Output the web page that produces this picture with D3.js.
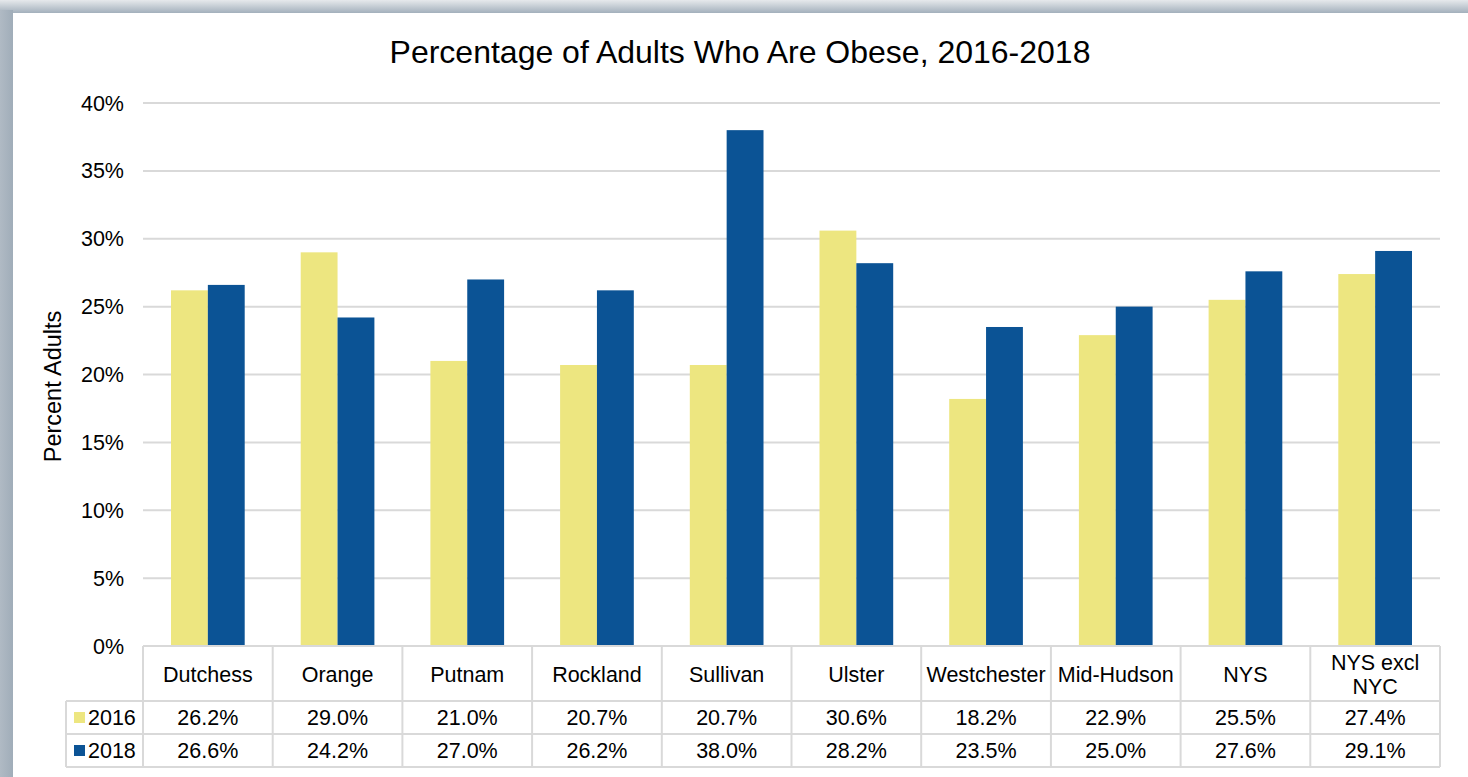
<!doctype html>
<html lang="en">
<head>
<meta charset="utf-8">
<title>Percentage of Adults Who Are Obese</title>
<script src="https://d3js.org/d3.v7.min.js"></script>
<style>
    body { margin: 0; background: #fff; font-family: "Liberation Sans", Arial, sans-serif; }
    text { fill: #000; }
</style>
</head>
<body>
<div id="chart"></div>
<script>
    const categories = ["Dutchess", "Orange", "Putnam", "Rockland", "Sullivan", "Ulster", "Westchester", "Mid-Hudson", "NYS", "NYS excl NYC"];
    const years = ["2016", "2018"];
    const values2016 = [26.2, 29.0, 21.0, 20.7, 20.7, 30.6, 18.2, 22.9, 25.5, 27.4];
    const values2018 = [26.6, 24.2, 27.0, 26.2, 38.0, 28.2, 23.5, 25.0, 27.6, 29.1];
    const yTicks = [0, 5, 10, 15, 20, 25, 30, 35, 40];

    const series = [
        {year: years[0], values: values2016, color: "#ede680"},
        {year: years[1], values: values2018, color: "#0b5395"}
    ];

    const W = 1468, H = 777;
    const margin = {left: 143, right: 28, top: 103, bottom: 131};
    const plotW = W - margin.left - margin.right;
    const plotH = H - margin.top - margin.bottom;
    const fs = "21.5px";

    const svg = d3.select("#chart").append("svg")
        .attr("width", W)
        .attr("height", H);

    // frame
    const defs = svg.append("defs");
    const gTop = defs.append("linearGradient").attr("id", "frameTop")
        .attr("x1", 0).attr("y1", 0).attr("x2", 0).attr("y2", 1);
    gTop.append("stop").attr("offset", "0%").attr("stop-color", "#e6e9ec");
    gTop.append("stop").attr("offset", "100%").attr("stop-color", "#a3b0bc");
    const gLeft = defs.append("linearGradient").attr("id", "frameLeft")
        .attr("x1", 0).attr("y1", 0).attr("x2", 1).attr("y2", 0);
    gLeft.append("stop").attr("offset", "0%").attr("stop-color", "#b0bac4");
    gLeft.append("stop").attr("offset", "100%").attr("stop-color", "#a0adb9");

    svg.append("rect").attr("x", 0).attr("y", 0).attr("width", W).attr("height", 13).attr("fill", "url(#frameTop)");
    svg.append("rect").attr("x", 0).attr("y", 10).attr("width", 13).attr("height", H).attr("fill", "url(#frameLeft)");
    svg.append("rect").attr("x", 13).attr("y", 13).attr("width", W - 13).attr("height", H - 13).attr("fill", "#fff");

    // title
    svg.append("text")
        .attr("x", 740).attr("y", 63)
        .attr("text-anchor", "middle")
        .style("font-size", "32px")
        .text("Percentage of Adults Who Are Obese, 2016-2018");

    const x = d3.scaleBand().domain(categories).range([margin.left, margin.left + plotW]);
    const xSub = d3.scaleBand().domain(years).range([28, x.bandwidth() - 28]);
    const y = d3.scaleLinear().domain([0, 40]).range([margin.top + plotH, margin.top]);

    // gridlines
    svg.append("g").selectAll("line")
        .data(yTicks)
        .enter().append("line")
        .attr("x1", margin.left).attr("x2", margin.left + plotW)
        .attr("y1", d => y(d)).attr("y2", d => y(d))
        .attr("stroke", "#d9d9d9")
        .attr("stroke-width", 2);

    svg.append("g").selectAll("text")
        .data(yTicks)
        .enter().append("text")
        .attr("x", 124).attr("y", d => y(d) + 7.5)
        .attr("text-anchor", "end")
        .style("font-size", fs)
        .text(d => d + "%");

    svg.append("text")
        .attr("transform", `translate(61,${(y(0) + y(40)) / 2 + 12}) rotate(-90)`)
        .attr("text-anchor", "middle")
        .style("font-size", "23.5px")
        .text("Percent Adults");

    // bars
    series.forEach(s => {
        svg.append("g").selectAll("rect")
            .data(s.values)
            .enter().append("rect")
            .attr("x", (d, i) => x(categories[i]) + xSub(s.year))
            .attr("y", d => y(d))
            .attr("width", xSub.bandwidth())
            .attr("height", d => y(0) - y(d))
            .attr("fill", s.color);
    });

    // data table
    const rowTop = y(0);
    const headerH = 55;
    const rowH = 33;
    const tableLeft = 66;
    const tableRight = margin.left + plotW;
    const border = "#d9d9d9";
    const table = svg.append("g").attr("stroke", border).attr("stroke-width", 2).attr("fill", "none");

    table.append("line").attr("x1", margin.left).attr("x2", tableRight).attr("y1", rowTop).attr("y2", rowTop);
    [0, 1, 2].forEach(r => {
        const yy = rowTop + headerH + r * rowH;
        table.append("line").attr("x1", tableLeft).attr("x2", tableRight).attr("y1", yy).attr("y2", yy);
    });
    table.append("line").attr("x1", tableLeft).attr("x2", tableLeft)
        .attr("y1", rowTop + headerH).attr("y2", rowTop + headerH + 2 * rowH);
    categories.concat([null]).forEach((c, i) => {
        const xx = margin.left + i * x.step();
        table.append("line").attr("x1", xx).attr("x2", xx)
            .attr("y1", rowTop).attr("y2", rowTop + headerH + 2 * rowH);
    });

    // header labels
    const header = svg.append("g").selectAll("text")
        .data(categories)
        .enter().append("text")
        .attr("text-anchor", "middle")
        .style("font-size", fs);
    header.each(function(c) {
        const t = d3.select(this);
        const cx = x(c) + x.bandwidth() / 2;
        const lines = c === "NYS excl NYC" ? ["NYS excl", "NYC"] : [c];
        const y0 = rowTop + headerH / 2 + 8 - (lines.length - 1) * 12;
        lines.forEach((ln, k) => {
            t.append("tspan").attr("x", cx).attr("y", y0 + k * 24).text(ln);
        });
    });

    // rows
    series.forEach((s, r) => {
        const cy = rowTop + headerH + r * rowH + rowH / 2 + 7.5;
        svg.append("rect")
            .attr("x", 74).attr("y", cy - 13)
            .attr("width", 11).attr("height", 11)
            .attr("fill", s.color);
        svg.append("text")
            .attr("x", 88).attr("y", cy)
            .style("font-size", fs)
            .text(s.year);
        svg.append("g").selectAll("text")
            .data(s.values)
            .enter().append("text")
            .attr("x", (d, i) => x(categories[i]) + x.bandwidth() / 2)
            .attr("y", cy)
            .attr("text-anchor", "middle")
            .style("font-size", fs)
            .text(d => d.toFixed(1) + "%");
    });
</script>
</body>
</html>
